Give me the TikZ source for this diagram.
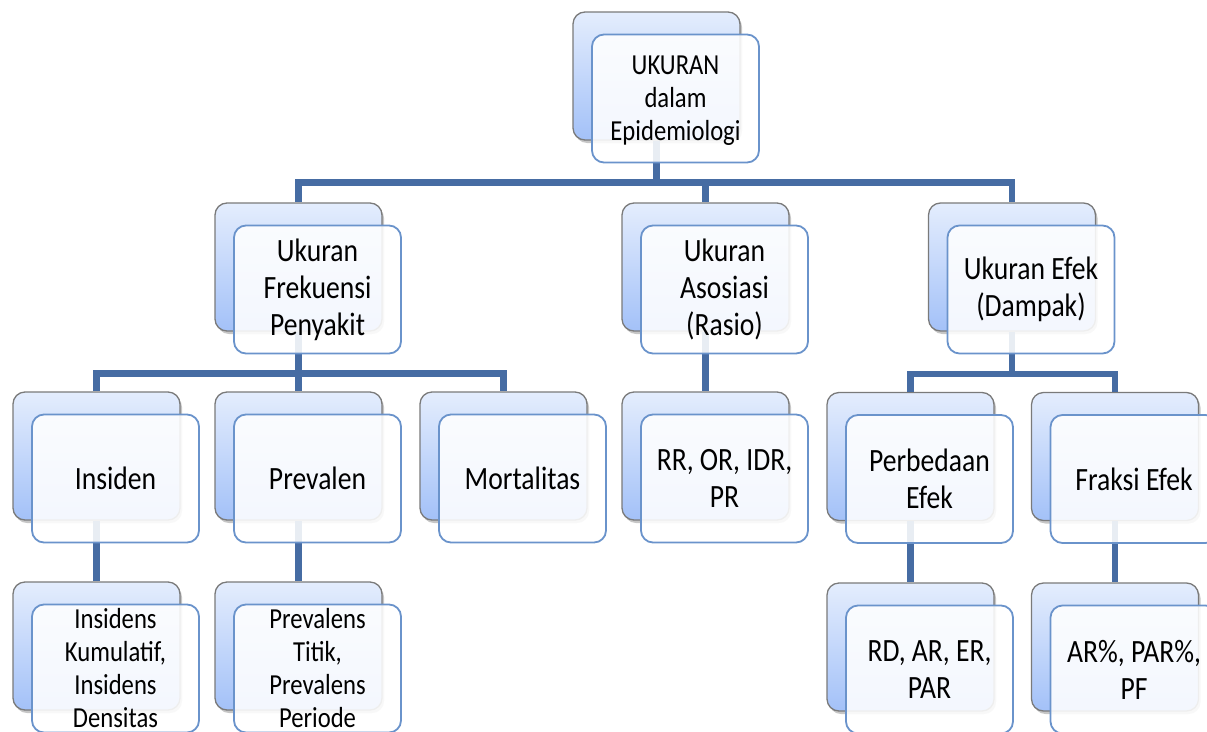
\documentclass[tikz,border=0pt]{standalone}
\usepackage{fontspec}
\setmainfont{Carlito}[FakeStretch=0.85]
\definecolor{cardtop}{HTML}{E4EDFD}
\definecolor{cardbot}{HTML}{A3C1F8}
\definecolor{cardgray}{HTML}{7A7A7A}
\definecolor{frontblue}{HTML}{6A93CB}
\definecolor{linkblue}{HTML}{466CA3}
\usepackage{tikz}
\usetikzlibrary{shadows,calc}

\begin{document}
\begin{tikzpicture}[
  x=1pt, y=-1pt,
  backcard/.style={draw=cardgray, line width=1.3pt, rounded corners=12pt,
    top color=cardtop, bottom color=cardbot, inner sep=0pt,
    minimum width=167pt, minimum height=128pt,
    drop shadow={shadow xshift=2pt, shadow yshift=-3pt, opacity=0.45}},
  frontcard/.style={draw=frontblue, line width=1.8pt, rounded corners=12pt,
    fill=white, fill opacity=0.88, inner sep=0pt,
    minimum width=167pt, minimum height=128pt},
  link/.style={draw=linkblue, line width=6.5pt},
  cardtext/.style={font=\fontsize{32.5}{37}\selectfont, align=center,
    text=black, inner sep=0pt},
  smalltext/.style={cardtext, font=\fontsize{29}{33}\selectfont}
]
  \useasboundingbox (0,0) rectangle (1207,731);

  % Back cards
  \node[backcard] (ukuran-b) at (656.5,76) {};
  \node[backcard] (frek-b) at (298.5,267) {};
  \node[backcard] (asos-b) at (705.5,267) {};
  \node[backcard] (efek-b) at (1012,267) {};
  \node[backcard] (ins-b) at (96.5,456) {};
  \node[backcard] (prev-b) at (298.5,456) {};
  \node[backcard] (mort-b) at (503.5,456) {};
  \node[backcard] (rasio-b) at (705.5,456) {};
  \node[backcard] (beda-b) at (910.5,456.5) {};
  \node[backcard] (fraksi-b) at (1115,456.5) {};
  \node[backcard] (insk-b) at (96.5,646) {};
  \node[backcard] (prevk-b) at (298.5,646) {};
  \node[backcard] (rd-b) at (910.5,647) {};
  \node[backcard] (arp-b) at (1115,647) {};

  % Connectors
  \foreach \child in {frek,asos,efek}
    \draw[link] (ukuran-b.south) |- ($(\child-b.north)+(0,-20)$) -- (\child-b.north);
  \foreach \child in {ins,prev,mort}
    \draw[link] (frek-b.south) |- ($(\child-b.north)+(0,-18)$) -- (\child-b.north);
  \draw[link] (asos-b.south) -- (rasio-b.north);
  \foreach \child in {beda,fraksi}
    \draw[link] (efek-b.south) |- ($(\child-b.north)+(0,-18)$) -- (\child-b.north);
  \draw[link] (ins-b.south) -- (insk-b.north);
  \draw[link] (prev-b.south) -- (prevk-b.north);
  \draw[link] (beda-b.south) -- (rd-b.north);
  \draw[link] (fraksi-b.south) -- (arp-b.north);

  % Front cards
  \foreach \card in {ukuran,frek,asos,efek,ins,prev,mort,rasio,beda,fraksi,insk,prevk,rd,arp}
    \node[frontcard] (\card) at ($(\card-b)+(19,22.5)$) {};

  % Card labels
  \node[smalltext] at ($(ukuran.center)+(0,2)$) {UKURAN\\dalam\\Epidemiologi};
  \node[cardtext] at (frek.center) {Ukuran\\Frekuensi\\Penyakit};
  \node[cardtext] at (asos.center) {Ukuran\\Asosiasi\\(Rasio)};
  \node[cardtext] at (efek.center) {Ukuran Efek\\(Dampak)};
  \node[cardtext] at (ins.center) {Insiden};
  \node[cardtext] at (prev.center) {Prevalen};
  \node[cardtext] at (mort.center) {Mortalitas};
  \node[cardtext] at (rasio.center) {RR, OR, IDR,\\PR};
  \node[cardtext] at (beda.center) {Perbedaan\\Efek};
  \node[cardtext] at (fraksi.center) {Fraksi Efek};
  \node[smalltext] at (insk.center) {Insidens\\Kumulatif,\\Insidens\\Densitas};
  \node[smalltext] at (prevk.center) {Prevalens\\Titik,\\Prevalens\\Periode};
  \node[cardtext] at (rd.center) {RD, AR, ER,\\PAR};
  \node[cardtext] at (arp.center) {AR\%, PAR\%,\\PF};
\end{tikzpicture}
\end{document}
